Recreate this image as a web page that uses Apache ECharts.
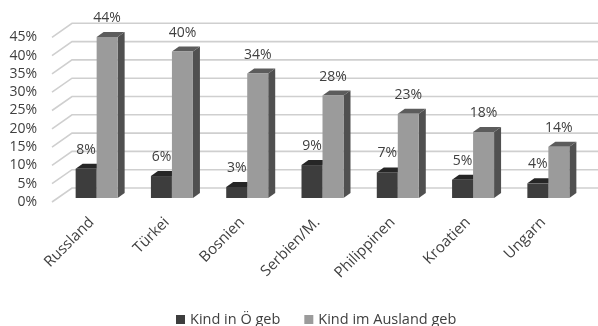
<!DOCTYPE html>
<html>
<head>
<meta charset="utf-8">
<script src="https://cdn.jsdelivr.net/npm/echarts@6/dist/echarts.min.js"></script>
<style>
  html, body { margin: 0; padding: 0; background: #ffffff; }
  #chart { width: 598px; height: 326px; }
</style>
</head>
<body>
<div id="chart"></div>
<script>
// Share of children per country of origin, split by place of birth
const categories = ['Russland', 'Türkei', 'Bosnien', 'Serbien/M.', 'Philippinen', 'Kroatien', 'Ungarn'];
const bornInAustria = [8, 6, 3, 9, 7, 5, 4];
const bornAbroad = [44, 40, 34, 28, 23, 18, 14];
const seriesNames = ['Kind in Ö geb', 'Kind im Ausland geb'];
const yTicks = [0, 5, 10, 15, 20, 25, 30, 35, 40, 45];

// Pseudo-3D offsets in pixels, measured from the front plane of the grid
const BAR_FRONT = [7, -4];   // front face of the columns
const BAR_DEPTH = [7, -5];   // depth of each column
const WALL = [20, -14];      // back wall
const BAR_W = 21;

const FONT_FAMILY = '"Open Sans", sans-serif';
const TEXT_COLOR = '#404040';
const GRID_COLOR = '#cfcfcf';

const palette = [
  { front: '#3d3d3d', top: '#262626', side: '#2e2e2e' },
  { front: '#9b9b9b', top: '#5c5c5c', side: '#505050' }
];

function columnRenderer(seriesIdx) {
  const faces = palette[seriesIdx];
  return function (params, api) {
    const idx = api.value(0);
    const v = api.value(1);
    const base = api.coord([idx, 0]);
    const top = api.coord([idx, v]);
    const cx = base[0] + BAR_FRONT[0];
    const x0 = seriesIdx === 0 ? cx - BAR_W : cx;
    const x1 = x0 + BAR_W;
    const yB = base[1] + BAR_FRONT[1];
    const yT = top[1] + BAR_FRONT[1];
    const dx = BAR_DEPTH[0], dy = BAR_DEPTH[1];
    return {
      type: 'group',
      children: [
        { type: 'polygon', shape: { points: [[x1, yT], [x1 + dx, yT + dy], [x1 + dx, yB + dy], [x1, yB]] },
          style: { fill: faces.side } },
        { type: 'polygon', shape: { points: [[x0, yT], [x1, yT], [x1 + dx, yT + dy], [x0 + dx, yT + dy]] },
          style: { fill: faces.top } },
        { type: 'rect', shape: { x: x0, y: yT, width: BAR_W, height: yB - yT },
          style: { fill: faces.front } },
        { type: 'text', style: { text: v + '%', x: (x0 + x1) / 2, y: yT - 19, align: 'center',
          verticalAlign: 'middle', fontFamily: FONT_FAMILY, fontSize: 14, fill: TEXT_COLOR } }
      ]
    };
  };
}

// Side wall diagonals and back wall gridlines, one per tick value
function wallRenderer(params, api) {
  const p = api.coord([0, api.value(1)]);
  const left = params.coordSys.x;
  const right = left + params.coordSys.width;
  return {
    type: 'polyline',
    shape: { points: [[left, p[1]], [left + WALL[0], p[1] + WALL[1]], [right + WALL[0], p[1] + WALL[1]]] },
    style: { stroke: GRID_COLOR, lineWidth: 1.6, fill: null }
  };
}

const chart = echarts.init(document.getElementById('chart'), null, { renderer: 'canvas' });

chart.setOption({
  animation: false,
  backgroundColor: '#ffffff',
  textStyle: { fontFamily: FONT_FAMILY, color: TEXT_COLOR },
  grid: [
    { left: 52, right: 19, top: 37.3, bottom: 124 },
    { left: 54, right: 17, top: 33.3, bottom: 128 }
  ],
  xAxis: [
    { type: 'category', data: categories, gridIndex: 0, axisLine: { show: false },
      axisTick: { show: false }, axisLabel: { show: false }, splitLine: { show: false } },
    { type: 'category', data: categories, gridIndex: 1, axisLine: { show: false },
      axisTick: { show: false }, splitLine: { show: false },
      axisLabel: { rotate: 45, margin: 22, fontSize: 15, color: TEXT_COLOR, fontFamily: FONT_FAMILY, interval: 0 } }
  ],
  yAxis: [
    { type: 'value', gridIndex: 0, min: 0, max: 45, interval: 5,
      axisLine: { show: false }, axisTick: { show: false }, splitLine: { show: false },
      axisLabel: { formatter: '{value}%', margin: 15, fontSize: 14, color: TEXT_COLOR, fontFamily: FONT_FAMILY } },
    { type: 'value', gridIndex: 1, min: 0, max: 45, interval: 5, show: false }
  ],
  legend: {
    data: seriesNames,
    left: 171,
    top: 307,
    itemWidth: 9,
    itemHeight: 9,
    itemGap: 24,
    icon: 'rect',
    textStyle: { fontSize: 14.5, color: TEXT_COLOR, fontFamily: FONT_FAMILY }
  },
  series: [
    { type: 'custom', name: 'wall', xAxisIndex: 0, yAxisIndex: 0, z: 1, silent: true,
      data: yTicks.map(v => [0, v]), renderItem: wallRenderer },
    { type: 'custom', name: seriesNames[0], xAxisIndex: 0, yAxisIndex: 0, z: 2,
      itemStyle: { color: palette[0].front },
      data: bornInAustria.map((v, i) => [i, v]), renderItem: columnRenderer(0) },
    { type: 'custom', name: seriesNames[1], xAxisIndex: 0, yAxisIndex: 0, z: 3,
      itemStyle: { color: palette[1].front },
      data: bornAbroad.map((v, i) => [i, v]), renderItem: columnRenderer(1) }
  ]
});
</script>
</body>
</html>
